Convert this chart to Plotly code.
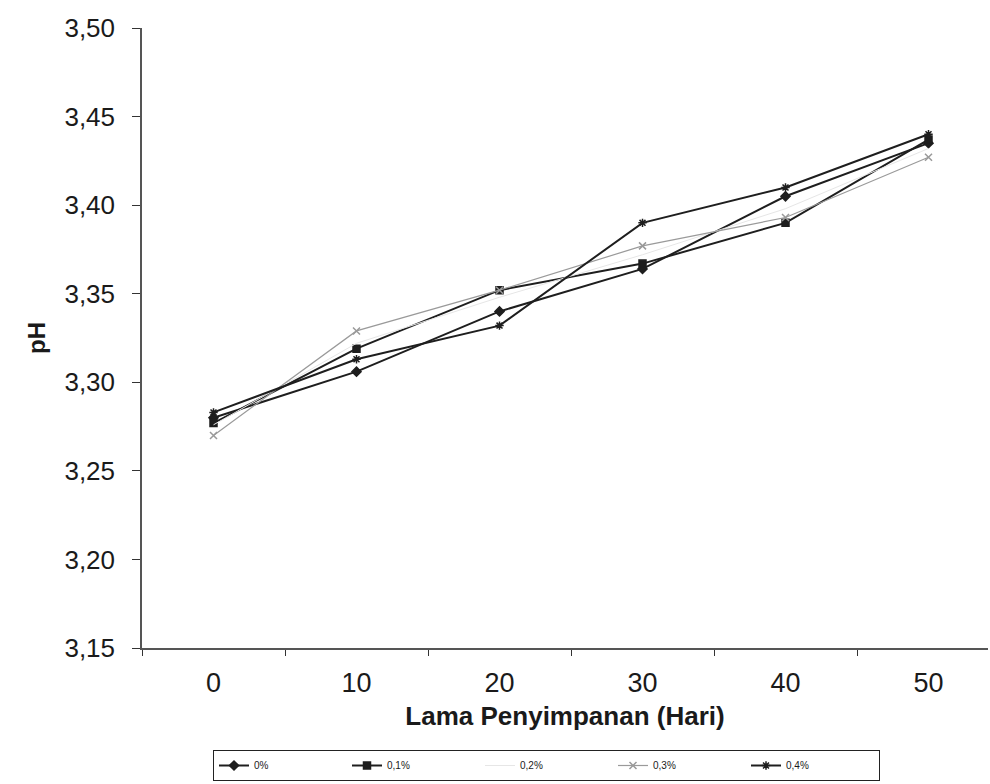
import plotly.graph_objects as go

days = ["0", "10", "20", "30", "40", "50"]
series_names = ["0%", "0,1%", "0,2%", "0,3%", "0,4%"]
ph_0 = [3.280, 3.306, 3.340, 3.364, 3.405, 3.435]
ph_01 = [3.277, 3.319, 3.352, 3.367, 3.390, 3.437]
ph_02 = [3.276, 3.322, 3.348, 3.372, 3.398, 3.432]
ph_03 = [3.270, 3.329, 3.352, 3.377, 3.393, 3.427]
ph_04 = [3.283, 3.313, 3.332, 3.390, 3.410, 3.440]
y_ticks = [3.15, 3.20, 3.25, 3.30, 3.35, 3.40, 3.45, 3.50]
y_tick_text = ["3,15", "3,20", "3,25", "3,30", "3,35", "3,40", "3,45", "3,50"]

styles = [
    dict(color="#1e1e1e", width=2, symbol="diamond", size=7),
    dict(color="#1e1e1e", width=2, symbol="square", size=7),
    dict(color="#e6e6e6", width=1, symbol=None, size=0),
    dict(color="#9a9a9a", width=1.2, symbol="x-thin", size=7),
    dict(color="#1e1e1e", width=2, symbol="asterisk", size=7),
]
values = [ph_0, ph_01, ph_02, ph_03, ph_04]

fig = go.Figure()
for name, vals, st in zip(series_names, values, styles):
    if st["symbol"] is None:
        fig.add_trace(go.Scatter(x=days, y=vals, name=name, mode="lines",
                                 line=dict(color=st["color"], width=st["width"])))
    else:
        fig.add_trace(go.Scatter(
            x=days, y=vals, name=name, mode="lines+markers",
            line=dict(color=st["color"], width=st["width"]),
            marker=dict(symbol=st["symbol"], size=st["size"], color=st["color"],
                        line=dict(color=st["color"], width=1.5))))

font_family = "Liberation Sans, Arial, sans-serif"
fig.update_layout(
    width=990, height=784,
    margin=dict(l=142, r=2, t=28, b=136),
    paper_bgcolor="white", plot_bgcolor="white",
    font=dict(family=font_family, color="#1a1a1a"),
    showlegend=True,
    legend=dict(orientation="h", x=213 / 990, y=(784 - 750) / 784,
                xref="container", yref="container",
                xanchor="left", yanchor="top",
                bordercolor="#222", borderwidth=1, font=dict(size=10),
                entrywidth=88, itemwidth=30, tracegroupgap=0),
    xaxis=dict(type="category", categoryorder="array", categoryarray=days,
               range=[-0.5, 5.416], tickson="boundaries", ticks="outside",
               ticklen=6, tickcolor="#333", showline=True, linecolor="#555",
               linewidth=1.5, showgrid=False, zeroline=False, automargin=False,
               tickfont=dict(size=27), ticklabelstandoff=10,
               title=dict(text="<b>Lama Penyimpanan (Hari)</b>",
                          font=dict(size=26), standoff=10)),
    yaxis=dict(range=[3.15, 3.50], tickvals=y_ticks, ticktext=y_tick_text,
               ticks="outside", ticklen=8, tickcolor="#333", showline=True,
               linecolor="#555", linewidth=1.5, showgrid=False, zeroline=False,
               automargin=False,
               tickfont=dict(size=26), ticklabelstandoff=12,
               title=dict(text="<b>pH</b>", font=dict(size=24), standoff=12)),
)

fig.write_html("out.html")
